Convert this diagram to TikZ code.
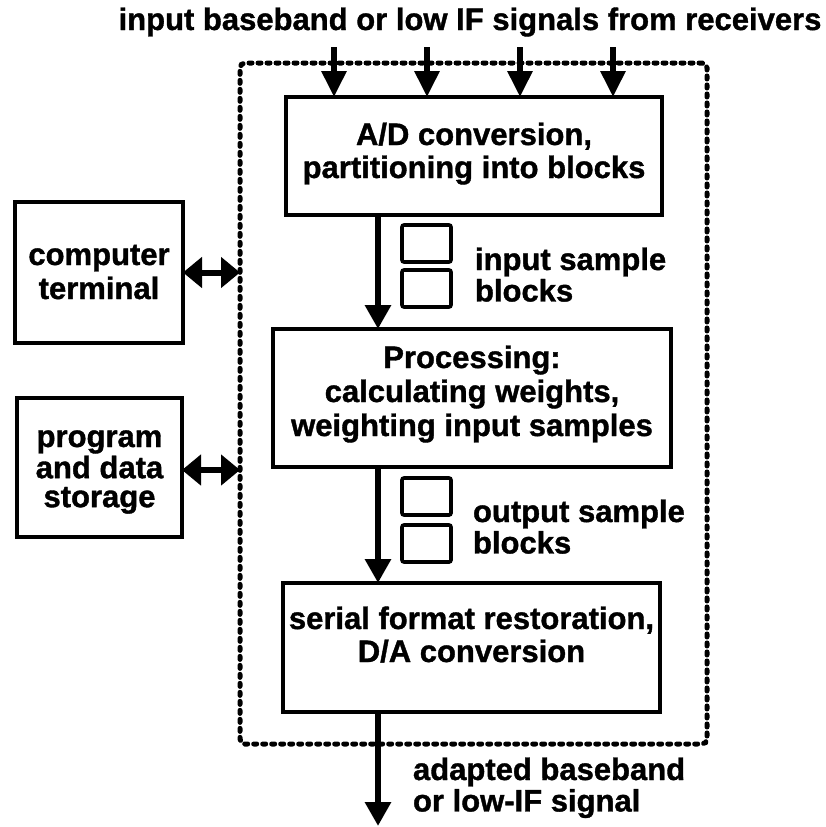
\documentclass[tikz,border=0pt]{standalone}
\usepackage{fontspec}
\setmainfont{Liberation Sans}[BoldFeatures={FakeBold=1.2}]
\usetikzlibrary{arrows.meta}
% stacked lines, first baseline is the node's base
\newcommand\txtlines[2][c]{\begin{tabular}[t]{@{}#1@{}}#2\end{tabular}}

\begin{document}
\begin{tikzpicture}[x=1pt,y=-1pt,
  every node/.style={inner sep=0pt, outer sep=0pt},
  words/.style={font=\bfseries\fontsize{31}{33}\selectfont, anchor=base},
  sidewords/.style={font=\bfseries\fontsize{31}{30}\selectfont, anchor=base west},
  block/.style={draw, line width=4.2pt, rectangle},
  sampleblock/.style={draw, line width=3.6pt, rounded corners=2pt,
    minimum width=49pt, minimum height=37pt},
  frame/.style={draw, line width=5pt, dash pattern=on 3pt off 6pt,
    line cap=round, rounded corners=5pt},
  flow/.style={line width=6.5pt, -{Triangle[width=25pt,length=24pt]}},
  feed/.style={line width=6pt, -{Triangle[width=24pt,length=26pt]}},
  link/.style={line width=6pt,
    {Triangle[width=30pt,length=19pt]}-{Triangle[width=30pt,length=19pt]}}
]
\useasboundingbox (0,0) rectangle (825,827);

% processor boundary
\node[frame, minimum width=467pt, minimum height=681pt] (frame) at (473.5,403.5) {};

% processing chain
\node[block, minimum width=376pt, minimum height=118pt] (ad) at (474,156) {};
\node[block, minimum width=398pt, minimum height=138pt] (proc) at (472,398) {};
\node[block, minimum width=377pt, minimum height=129pt] (ser) at (471.5,647.5) {};

\node[words] (adtext) at (474,145) {\txtlines{A/D conversion,\\partitioning into blocks}};
\node[words, font=\bfseries\fontsize{31}{34}\selectfont] (proctext) at (472,368)
  {\txtlines{Processing:\\calculating weights,\\weighting input samples}};
\node[words] (sertext) at (471.5,629) {\txtlines{serial format restoration,\\D/A conversion}};

% peripherals
\node[block, minimum width=168pt, minimum height=141pt] (term) at (99,272.5) {};
\node[block, minimum width=165pt, minimum height=139pt] (store) at (99.5,467.5) {};
\node[words, font=\bfseries\fontsize{31}{34}\selectfont] (termtext) at (99,265)
  {\txtlines{computer\\terminal}};
\node[words, font=\bfseries\fontsize{31}{29}\selectfont] (storetext) at (99.5,447)
  {\txtlines{program\\and data\\storage}};

% sample blocks between stages
\node[sampleblock] (sb1) at (426.5,243.5) {};
\node[sampleblock] (sb2) at (426.5,288.5) {};
\node[sampleblock] (sb3) at (426.5,496.5) {};
\node[sampleblock] (sb4) at (426.5,543.5) {};
\node[sidewords] (intext) at (475,270) {\txtlines[l]{input sample\\blocks}};
\node[sidewords] (outtext) at (473,522) {\txtlines[l]{output sample\\blocks}};

% inputs
\node[words] (caption) at (470,30) {input baseband or low IF signals from receivers};
\coordinate (in1) at (334,47);
\coordinate (in2) at (427,47);
\coordinate (in3) at (520,47);
\coordinate (in4) at (613,47);
\foreach \c in {in1,in2,in3,in4}
  \draw[feed] (\c) -- (\c |- ad.north);

% main signal path
\coordinate (spine) at (378,0);
\coordinate (out) at (378,826);
\draw[flow] (ad.south -| spine) -- (proc.north -| spine);
\draw[flow] (proc.south -| spine) -- (ser.north -| spine);
\draw[flow] (ser.south -| spine) -- (out);
\node[sidewords] (outlabel) at (413,780) {\txtlines[l]{adapted baseband\\or low-IF signal}};

% control and storage links
\draw[link] (term.east) -- (term.east -| frame.west);
\draw[link] ([yshift=-2.5pt]store.east) -- ([yshift=-2.5pt]store.east -| frame.west);
\end{tikzpicture}
\end{document}
